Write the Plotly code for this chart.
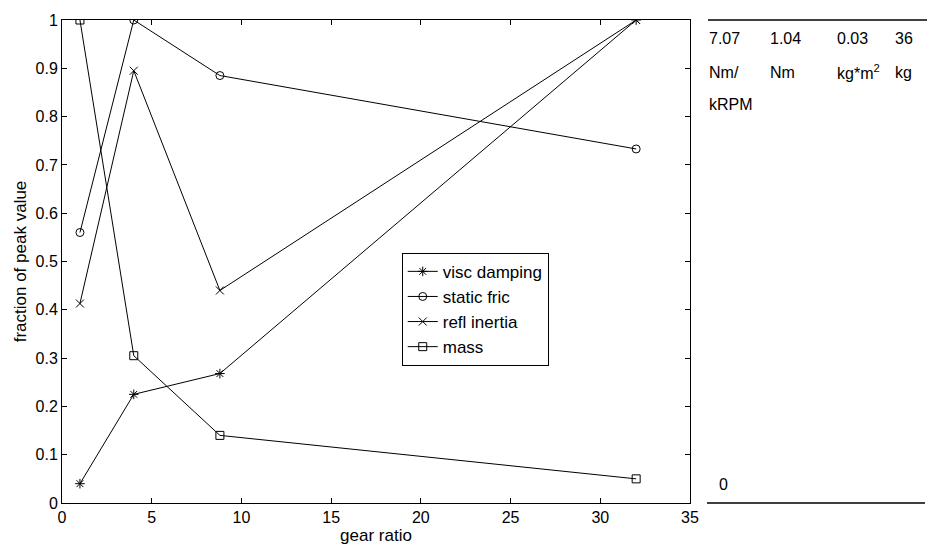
import plotly.graph_objects as go

gear_ratio = [1, 4, 8.8, 32]
visc_damping = [0.04, 0.225, 0.268, 1.0]
static_fric = [0.56, 1.0, 0.885, 0.733]
refl_inertia = [0.413, 0.895, 0.44, 1.0]
mass = [1.0, 0.305, 0.14, 0.05]

series_names = ["visc damping", "static fric", "refl inertia", "mass"]
series_symbols = ["asterisk-open", "circle-open", "x-thin-open", "square-open"]

peak_values = ["7.07", "1.04", "0.03", "36"]
peak_units = ["Nm/", "Nm", "kg*m<sup>2</sup>", "kg"]
peak_units2 = ["kRPM", "", "", ""]

FONT = "Liberation Sans, Arial, Helvetica, sans-serif"

fig = go.Figure()
for name, ys, sym in zip(series_names, [visc_damping, static_fric, refl_inertia, mass], series_symbols):
    fig.add_trace(go.Scatter(
        x=gear_ratio, y=ys, name=name, mode="lines+markers",
        line=dict(color="black", width=1),
        marker=dict(symbol=sym, size=8, color="black", line=dict(color="black", width=1)),
    ))

fig.update_layout(
    width=927, height=552,
    margin=dict(l=62, r=237, t=14, b=46),
    paper_bgcolor="white", plot_bgcolor="white",
    font=dict(family=FONT, size=16, color="black"),
    showlegend=True,
    legend=dict(
        x=0.541, y=0.518, xanchor="left", yanchor="top",
        bordercolor="black", borderwidth=1, bgcolor="white",
        font=dict(size=17), tracegroupgap=0, itemwidth=30,
    ),
    xaxis=dict(
        range=[0, 35], tickvals=[0, 5, 10, 15, 20, 25, 30, 35],
        ticks="inside", ticklen=5, tickcolor="black",
        showline=True, linecolor="black", linewidth=1, mirror="ticks",
        showgrid=False, zeroline=False,
        title=dict(text="gear ratio", standoff=2, font=dict(size=17)),
    ),
    yaxis=dict(
        range=[0, 1], tickvals=[0, 0.1, 0.2, 0.3, 0.4, 0.5, 0.6, 0.7, 0.8, 0.9, 1],
        ticktext=["0", "0.1", "0.2", "0.3", "0.4", "0.5", "0.6", "0.7", "0.8", "0.9", "1"],
        ticks="inside", ticklen=5, tickcolor="black",
        showline=True, linecolor="black", linewidth=1, mirror="ticks",
        showgrid=False, zeroline=False,
        title=dict(text="fraction of peak value", standoff=4, font=dict(size=17)),
    ),
)

# Right-side peak value table
col_px = [707, 768, 835, 893]
plot_l, plot_w = 62, 628
plot_t, plot_h = 14, 492

def px_x(p):
    return (p - plot_l) / plot_w

def px_y(p):
    return (plot_t + plot_h - p) / plot_h

rows = [(peak_values, 33), (peak_units, 67), (peak_units2, 100)]
for texts, ypx in rows:
    for t, xpx in zip(texts, col_px):
        if t:
            fig.add_annotation(
                x=px_x(xpx), y=px_y(ypx), xref="paper", yref="paper",
                text=t, showarrow=False, xanchor="left", yanchor="middle",
                font=dict(size=16, family=FONT),
            )
fig.add_annotation(
    x=px_x(717), y=px_y(487), xref="paper", yref="paper",
    text="0", showarrow=False, xanchor="left", yanchor="middle",
    font=dict(size=16, family=FONT),
)
fig.add_shape(type="line", xref="paper", yref="paper",
              x0=px_x(708), x1=px_x(927), y0=1, y1=1,
              line=dict(color="black", width=1.5))
fig.add_shape(type="line", xref="paper", yref="paper",
              x0=px_x(707), x1=px_x(925), y0=0, y1=0,
              line=dict(color="black", width=1.5))

fig.write_html("out.html")
